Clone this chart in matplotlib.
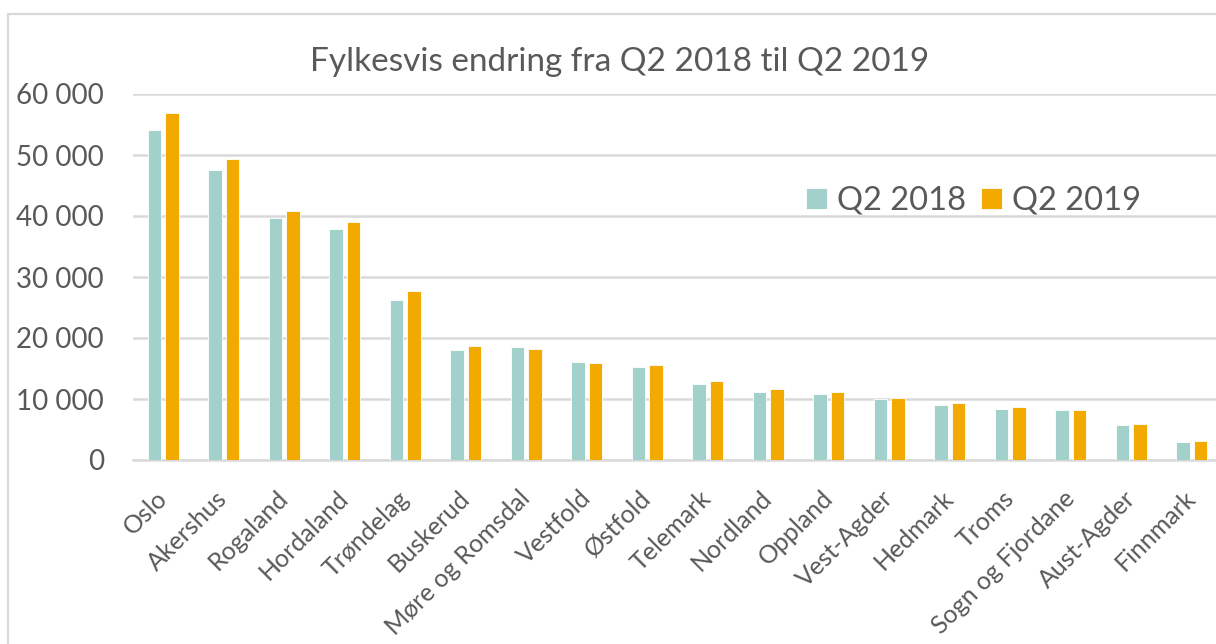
import matplotlib
matplotlib.use("Agg")
import matplotlib.pyplot as plt
from matplotlib.ticker import FuncFormatter, MultipleLocator
from matplotlib.patches import Rectangle
from matplotlib.transforms import ScaledTranslation
import numpy as np

categories = ["Oslo", "Akershus", "Rogaland", "Hordaland", "Trøndelag", "Buskerud",
              "Møre og Romsdal", "Vestfold", "Østfold", "Telemark", "Nordland", "Oppland",
              "Vest-Agder", "Hedmark", "Troms", "Sogn og Fjordane", "Aust-Agder", "Finnmark"]
q2_2018 = [54170, 47460, 39660, 37860, 26240, 18000, 18550, 16040, 15270, 12440,
           11180, 10850, 9990, 9050, 8280, 8230, 5680, 2900]
q2_2019 = [56890, 49310, 40800, 39000, 27710, 18710, 18220, 15880, 15650, 12980,
           11560, 11180, 10200, 9330, 8610, 8230, 5890, 3060]
series_names = ["Q2 2018", "Q2 2019"]
title = "Fylkesvis endring fra Q2 2018 til Q2 2019"

TEAL = "#A2D1CB"
ORANGE = "#F2A900"
TXT = "#595959"
GRID = "#D9D9D9"

plt.rcParams['font.family'] = ['Lato', 'DejaVu Sans']

W, H = 1216, 644
fig = plt.figure(figsize=(W/100, H/100), dpi=100)

# chart border
fig.patches.append(Rectangle((8/W, -0.2), 1.2, 1 - 14/H + 0.2, transform=fig.transFigure,
                             fill=False, edgecolor=GRID, linewidth=1.6, zorder=0))

ax = fig.add_axes([133/W, 1 - 460/H, (1222 - 133)/W, (460 - 94)/H])
x = np.arange(len(categories))
bw = 0.225
off = 0.142
ax.bar(x - off, q2_2018, width=bw, color=TEAL, edgecolor="white", linewidth=0.6,
       label=series_names[0], zorder=3)
ax.bar(x + off, q2_2019, width=bw, color=ORANGE, edgecolor="white", linewidth=0.6,
       label=series_names[1], zorder=3)

ax.set_xlim(-0.5, len(categories) - 0.5)
ax.set_ylim(0, 60000)
ax.yaxis.set_major_locator(MultipleLocator(10000))
ax.yaxis.set_major_formatter(FuncFormatter(lambda v, p: f"{int(v):,}".replace(",", " ")))
ax.grid(axis="y", color=GRID, linewidth=1.8, zorder=0)
ax.set_axisbelow(True)
for s in ["top", "right", "left"]:
    ax.spines[s].set_visible(False)
ax.spines["bottom"].set_color(GRID)
ax.spines["bottom"].set_linewidth(1.8)
ax.tick_params(axis="y", length=0, pad=21, labelsize=20, labelcolor=TXT)
ax.tick_params(axis="x", length=0, pad=19, labelsize=18, labelcolor=TXT)
ax.set_xticks(x)
ax.set_xticklabels(categories, rotation=45, ha="right", va="top", rotation_mode="anchor")
shift = ScaledTranslation(-8/100, 0, fig.dpi_scale_trans)
for lab in ax.get_xticklabels():
    lab.set_transform(lab.get_transform() + shift)

fig.text(619.5/W, 1 - 71/H, title, ha="center", va="baseline", fontsize=24, color=TXT)

leg = fig.legend(loc="center left", bbox_to_anchor=(806/W, 1 - 201/H), ncol=2,
                 frameon=False, fontsize=23.5, handlelength=0.65, handleheight=0.65,
                 handletextpad=0.3, columnspacing=0.45, borderpad=0, borderaxespad=0)
for t in leg.get_texts():
    t.set_color(TXT)

fig.savefig("out.png", dpi=100)
